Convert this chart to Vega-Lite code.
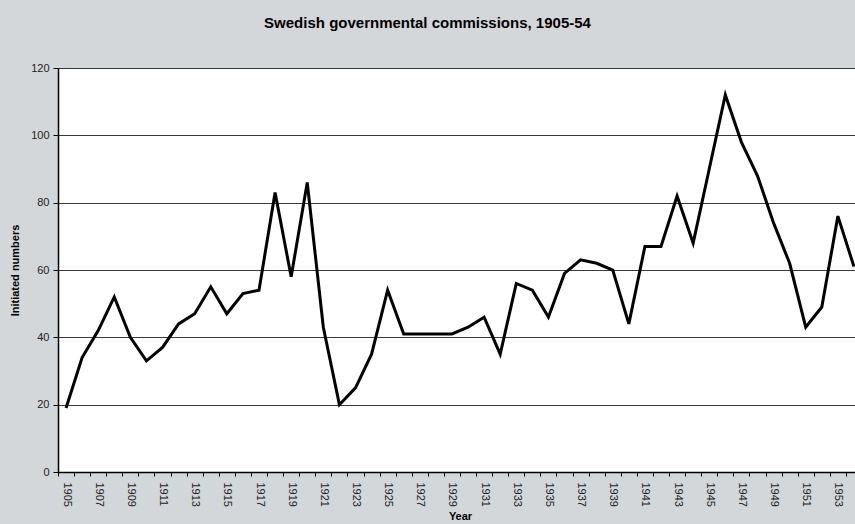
{
  "$schema": "https://vega.github.io/schema/vega-lite/v6.json",
  "width": 797,
  "height": 404,
  "autosize": "none",
  "padding": {"left": 58, "top": 68, "right": 0, "bottom": 52},
  "background": "#d4d7da",
  "title": {
    "text": "Swedish governmental commissions, 1905-54",
    "font": "Liberation Sans",
    "fontSize": 15,
    "fontWeight": "bold",
    "color": "#000000",
    "anchor": "middle",
    "dx": -29,
    "offset": 31
  },
  "config": {
    "view": {"fill": "white", "stroke": null},
    "font": "Liberation Sans"
  },
  "data": {
    "values": [
      {"year": 1905, "n": 19}, {"year": 1906, "n": 34}, {"year": 1907, "n": 42}, {"year": 1908, "n": 52},
      {"year": 1909, "n": 40}, {"year": 1910, "n": 33}, {"year": 1911, "n": 37}, {"year": 1912, "n": 44},
      {"year": 1913, "n": 47}, {"year": 1914, "n": 55}, {"year": 1915, "n": 47}, {"year": 1916, "n": 53},
      {"year": 1917, "n": 54}, {"year": 1918, "n": 83}, {"year": 1919, "n": 58}, {"year": 1920, "n": 86},
      {"year": 1921, "n": 43}, {"year": 1922, "n": 20}, {"year": 1923, "n": 25}, {"year": 1924, "n": 35},
      {"year": 1925, "n": 54}, {"year": 1926, "n": 41}, {"year": 1927, "n": 41}, {"year": 1928, "n": 41},
      {"year": 1929, "n": 41}, {"year": 1930, "n": 43}, {"year": 1931, "n": 46}, {"year": 1932, "n": 35},
      {"year": 1933, "n": 56}, {"year": 1934, "n": 54}, {"year": 1935, "n": 46}, {"year": 1936, "n": 59},
      {"year": 1937, "n": 63}, {"year": 1938, "n": 62}, {"year": 1939, "n": 60}, {"year": 1940, "n": 44},
      {"year": 1941, "n": 67}, {"year": 1942, "n": 67}, {"year": 1943, "n": 82}, {"year": 1944, "n": 68},
      {"year": 1945, "n": 90}, {"year": 1946, "n": 112}, {"year": 1947, "n": 98}, {"year": 1948, "n": 88},
      {"year": 1949, "n": 74}, {"year": 1950, "n": 62}, {"year": 1951, "n": 43}, {"year": 1952, "n": 49},
      {"year": 1953, "n": 76}, {"year": 1954, "n": 61}
    ]
  },
  "mark": {"type": "line", "color": "#000000", "strokeWidth": 3, "strokeJoin": "miter"},
  "encoding": {
    "x": {
      "field": "year",
      "type": "ordinal",
      "bandPosition": 0.5,
      "scale": {"type": "band", "paddingInner": 0, "paddingOuter": 0, "range": [0, 804]},
      "axis": {
        "title": "Year",
        "titleFont": "Liberation Sans",
        "titleFontSize": 11,
        "titleFontWeight": "bold",
        "titleColor": "#000000",
        "titlePadding": 4,
        "labelAngle": 90,
        "labelAlign": "left",
        "labelBaseline": "middle",
        "labelFontSize": 11,
        "labelColor": "#222222",
        "labelPadding": 6,
        "labelOverlap": false,
        "labelExpr": "datum.value % 2 == 1 ? datum.label : ''",
        "tickBand": "extent",
        "tickSize": 4,
        "tickColor": "#000000",
        "domainColor": "#000000",
        "domainWidth": 1.5,
        "grid": false
      }
    },
    "y": {
      "field": "n",
      "type": "quantitative",
      "scale": {"domain": [0, 120], "nice": false},
      "axis": {
        "title": "Initiated numbers",
        "titleFont": "Liberation Sans",
        "titleFontSize": 11,
        "titleFontWeight": "bold",
        "titleColor": "#000000",
        "titlePadding": 10,
        "values": [0, 20, 40, 60, 80, 100, 120],
        "labelFontSize": 11,
        "labelColor": "#222222",
        "labelPadding": 4,
        "tickSize": 5,
        "tickColor": "#000000",
        "domainColor": "#000000",
        "domainWidth": 1.5,
        "grid": true,
        "gridColor": "#3a3a3a",
        "gridWidth": 1
      }
    }
  }
}
